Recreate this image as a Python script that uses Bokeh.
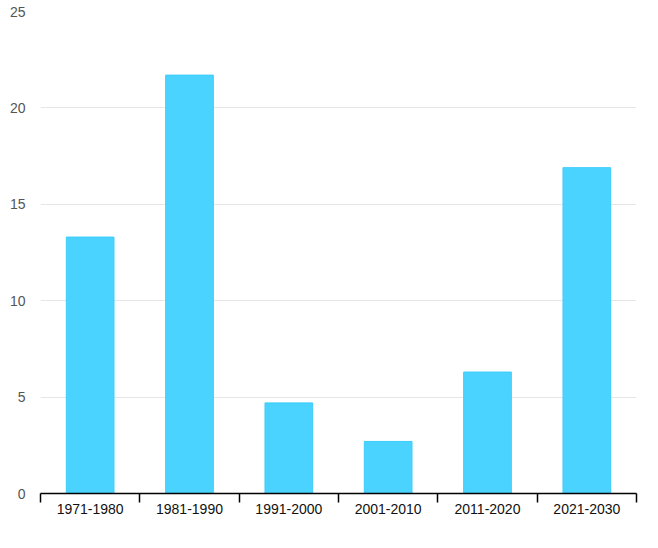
from bokeh.plotting import figure
from bokeh.models import Range1d, FixedTicker, ColumnDataSource
from bokeh.embed import file_html
from bokeh.resources import INLINE

categories = ["1971-1980", "1981-1990", "1991-2000", "2001-2010", "2011-2020", "2021-2030"]
values = [13.3, 21.7, 4.7, 2.7, 6.3, 16.9]
y_ticks = [0, 5, 10, 15, 20, 25]

xs = [i + 0.5 for i in range(len(categories))]
src = ColumnDataSource(dict(x=xs, top=values, cat=categories))

p = figure(width=650, height=540, output_backend="svg", toolbar_location=None,
           x_range=Range1d(0, len(categories)), y_range=Range1d(0, 25),
           min_border_left=40, min_border_right=14, min_border_top=11, min_border_bottom=47)
p.outline_line_color = None
p.background_fill_color = "white"
p.border_fill_color = "white"

p.vbar(x="x", top="top", bottom=0, width=0.48, source=src,
       fill_color="#4ad3ff", line_color="#3ccdfb", line_width=1)

# x axis
xa = p.xaxis[0]
xa.ticker = FixedTicker(ticks=xs, minor_ticks=list(range(len(categories) + 1)))
xa.major_label_overrides = {x: c for x, c in zip(xs, categories)}
xa.major_tick_line_color = None
xa.major_tick_out = 9
xa.major_tick_in = 0
xa.minor_tick_line_color = "black"
xa.minor_tick_out = 9
xa.minor_tick_in = 0
xa.minor_tick_line_width = 1.5
xa.axis_line_color = "black"
xa.axis_line_width = 1.5
xa.major_label_standoff = 1
xa.major_label_text_font = "Liberation Sans"
xa.major_label_text_font_size = "14px"
xa.major_label_text_color = "#111111"

# y axis
ya = p.yaxis[0]
ya.ticker = FixedTicker(ticks=y_ticks)
ya.axis_line_color = None
ya.major_tick_line_color = None
ya.minor_tick_line_color = None
ya.major_tick_out = 0
ya.major_tick_in = 0
ya.major_label_standoff = 15
ya.major_label_text_font = "Liberation Sans"
ya.major_label_text_font_size = "14px"
ya.major_label_text_color = "#555555"

p.xgrid.grid_line_color = None
p.ygrid.grid_line_color = "#e6e6e6"
p.ygrid.grid_line_width = 1
p.ygrid.ticker = FixedTicker(ticks=y_ticks)

open("out.html", "w").write(file_html(p, INLINE))
